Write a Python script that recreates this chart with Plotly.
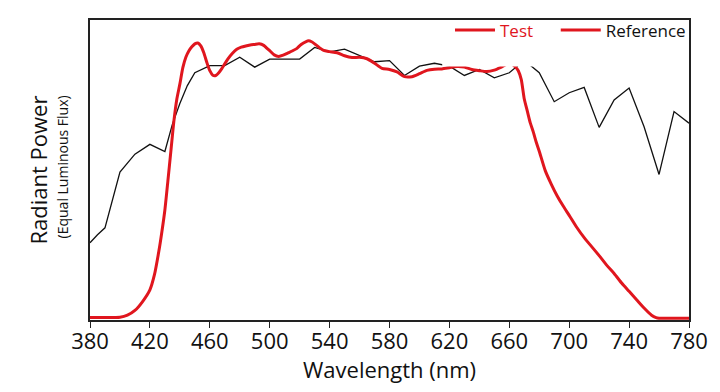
import plotly.graph_objects as go

# Reference (black) spectrum
ref_nm = [380, 385, 390, 400, 410, 420, 430, 435, 440, 445, 450, 460, 470, 480, 490,
          500, 510, 520, 530, 540, 550, 560, 570, 580, 590, 600, 610, 620, 630, 640,
          650, 660, 670, 680, 690, 700, 710, 720, 730, 740, 750, 760, 770, 780]
ref_val = [25.3, 28.0, 30.3, 49.0, 55.0, 58.3, 55.9, 65.0, 72.0, 78.0, 82.3, 84.7, 84.7, 87.5, 84.2,
           86.9, 86.9, 86.9, 90.8, 89.3, 90.2, 88.0, 86.0, 86.4, 81.4, 84.5, 85.5, 84.5, 81.4, 83.4,
           80.6, 82.3, 86.5, 82.3, 72.6, 75.6, 77.4, 64.0, 73.2, 77.2, 64.2, 48.2, 69.3, 65.4]

# Test (red) spectrum
test_nm = [380, 390, 400, 405, 410, 415, 420, 423, 426, 428, 430, 432, 434, 436, 438, 440, 442,
           444, 446, 448, 450, 452, 454, 456, 458, 460, 462, 464, 466, 468, 470, 472, 475, 478,
           481, 484, 487, 490, 493, 496, 498, 500, 503, 506, 509, 512, 515, 518, 521, 524, 526,
           528, 530, 533, 536, 540, 545, 550, 555, 560, 565, 570, 575, 580, 585, 590, 595, 600,
           605, 610, 615, 620, 625, 630, 635, 640, 645, 650, 655, 660, 664, 666, 668, 670, 672,
           674, 676, 678, 680, 684, 688, 692, 696, 700, 705, 710, 715, 720, 725, 730, 735, 740,
           745, 750, 755, 758, 760, 770, 780]
test_val = [0.2, 0.2, 0.3, 1.0, 2.6, 5.5, 9.5, 14.5, 22.5, 29.0, 36.3, 46.0, 56.0, 66.0, 73.5, 78.5, 84.0,
            87.5, 89.6, 91.0, 92.0, 92.3, 91.3, 89.0, 85.8, 83.0, 81.5, 81.4, 82.3, 83.7, 85.3, 86.9, 88.8, 90.2,
            90.9, 91.3, 91.6, 91.8, 92.0, 91.5, 90.6, 89.7, 88.3, 87.8, 88.2, 88.9, 89.6, 90.4, 91.8, 92.7, 93.0,
            92.7, 92.0, 90.8, 89.8, 89.4, 89.0, 88.0, 87.4, 87.5, 87.0, 85.5, 83.8, 83.4, 82.6, 81.0, 81.0, 82.0,
            83.1, 83.5, 83.6, 84.0, 84.4, 84.2, 83.4, 83.0, 82.7, 83.2, 84.3, 85.5, 84.3, 83.0, 80.0, 73.5, 69.5,
            65.5, 62.5, 59.0, 56.0, 49.5, 45.0, 41.0, 37.6, 34.5, 30.5, 27.0, 24.0, 21.0, 17.8, 15.0, 11.8, 9.0,
            6.2, 3.4, 1.0, 0.2, 0.0, 0.0, 0.0]

x_ticks = [380, 420, 460, 500, 540, 580, 620, 660, 700, 740, 780]
series_names = ["Test", "Reference"]

RED = "#e0161e"
FONT = "Open Sans"

fig = go.Figure()
fig.add_trace(go.Scatter(x=ref_nm, y=ref_val, mode="lines",
                         line=dict(color="#111111", width=1.3),
                         showlegend=False, hoverinfo="skip"))
fig.add_trace(go.Scatter(x=test_nm, y=test_val, mode="lines",
                         line=dict(color=RED, width=3, shape="spline", smoothing=0.6),
                         showlegend=False, hoverinfo="skip"))
# legend entries (both samples drawn red, as in the original)
fig.add_trace(go.Scatter(x=[None], y=[None], mode="lines", line=dict(color=RED, width=3),
                         name=f"<span style='color:{RED}'>{series_names[0]}</span>&nbsp;&nbsp;&nbsp;&nbsp;"))
fig.add_trace(go.Scatter(x=[None], y=[None], mode="lines", line=dict(color=RED, width=3),
                         name=f"<span style='color:#111111'>{series_names[1]}</span>"))

fig.update_layout(
    width=720, height=392,
    margin=dict(l=90, r=31, t=17, b=72),
    paper_bgcolor="white", plot_bgcolor="white",
    font=dict(family=FONT, color="#111111"),
    showlegend=True,
    legend=dict(orientation="h", x=0.601, xanchor="left", y=1.025, yanchor="top",
                bgcolor="rgba(0,0,0,0)", font=dict(size=17, family=FONT),
                itemwidth=40, traceorder="normal"),
    shapes=[dict(type="rect", xref="paper", yref="paper", x0=0.588, x1=0.997,
                 y0=0.845, y1=0.995, fillcolor="white", line=dict(width=0), layer="above")],
    annotations=[
        dict(text="Radiant Power", xref="paper", yref="paper", x=-0.086, y=0.5,
             xanchor="center", yanchor="middle", textangle=-90, showarrow=False,
             font=dict(size=22, family=FONT, color="#111111")),
        dict(text="(Equal Luminous Flux)", xref="paper", yref="paper", x=-0.046, y=0.51,
             xanchor="center", yanchor="middle", textangle=-90, showarrow=False,
             font=dict(size=14, family=FONT, color="#111111")),
        dict(text="Wavelength (nm)", xref="paper", yref="paper", x=0.5, y=-0.162,
             xanchor="center", yanchor="middle", showarrow=False,
             font=dict(size=22, family=FONT, color="#111111")),
    ],
)
fig.update_xaxes(range=[380, 780], tickvals=x_ticks, ticktext=[str(t) for t in x_ticks],
                 ticks="outside", ticklen=6, tickwidth=1.3, tickcolor="#222222",
                 tickfont=dict(size=22, family=FONT, color="#111111"), ticklabelstandoff=-5,
                 showline=True, linecolor="#222222", linewidth=1.5, mirror=True,
                 showgrid=False, zeroline=False)
fig.update_yaxes(range=[-0.6, 100], showticklabels=False, ticks="",
                 showline=True, linecolor="#222222", linewidth=1.5, mirror=True,
                 showgrid=False, zeroline=False)

fig.write_html("out.html", config={"displayModeBar": False},
               post_script="document.body.style.margin='0';document.body.style.overflow='hidden';")
